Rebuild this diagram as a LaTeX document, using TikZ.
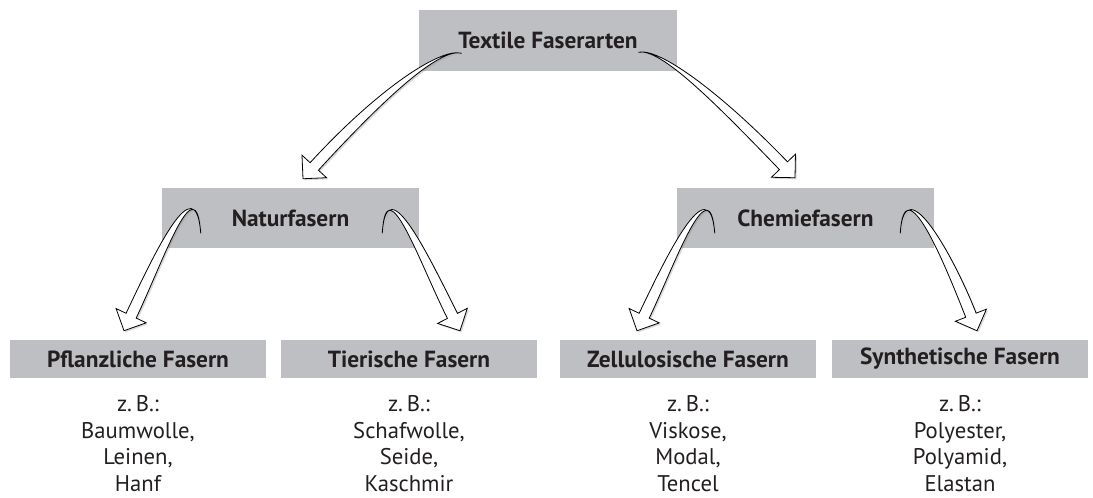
\documentclass[tikz,border=0pt]{standalone}
\usepackage{fontspec}
\setmainfont{PT Sans}
\usepackage{tikz}
\usetikzlibrary{positioning,calc,shadows}
\definecolor{boxgray}{RGB}{190,191,194}
\definecolor{inkgray}{RGB}{35,31,32}

\tikzset{
    fasebox/.style={fill=boxgray, inner sep=0pt, text=inkgray,
        font=\bfseries\fontsize{17.5}{21}\selectfont},
    topbox/.style={fasebox, minimum width=193.5pt, minimum height=45.75pt},
    midbox/.style={fasebox, minimum width=192.75pt, minimum height=45pt},
    lowbox/.style={fasebox, minimum width=191.5pt, minimum height=28.5pt},
    bsptext/.style={align=center, inner sep=0pt, text=inkgray,
        font=\fontsize{17}{19.8}\selectfont},
    swooshline/.style={draw=black, line width=0.6pt, fill=white, line join=miter,
        drop shadow={shadow xshift=1.2pt, shadow yshift=-1.2pt, opacity=0.3}}
}

% hollow tapered arrow: tail, control 1, control 2, tip
\newcommand\swoosh[4]{%
    \coordinate (sw-s) at #1;
    \coordinate (sw-c1) at #2;
    \coordinate (sw-c2) at #3;
    \coordinate (sw-t) at #4;
    \coordinate (sw-b) at ($(sw-t)!12.5pt!(sw-c2)$);
    \coordinate (sw-l) at ($(sw-b)!4.2pt!90:(sw-t)$);
    \coordinate (sw-r) at ($(sw-b)!4.2pt!-90:(sw-t)$);
    \coordinate (sw-hl) at ($(sw-b)!12.5pt!90:(sw-t)$);
    \coordinate (sw-hr) at ($(sw-b)!12.5pt!-90:(sw-t)$);
    \path[swooshline] (sw-s) .. controls (sw-c1) and ($(sw-c2)+(sw-l)-(sw-b)$) .. (sw-l)
        -- (sw-hl) -- (sw-t) -- (sw-hr) -- (sw-r)
        .. controls ($(sw-c2)+(sw-r)-(sw-b)$) and (sw-c1) .. (sw-s) -- cycle;
}

\begin{document}
\begin{tikzpicture}[x=0.75pt, y=-0.75pt]
    \useasboundingbox (0,0) rectangle (1093,497);

    \node[topbox] (faser) at (548,40.5) {Textile Faserarten};
    \node[midbox] (natur) at (290.5,218) {Naturfasern};
    \node[midbox] (chemie) at (805.5,218) {Chemiefasern};

    \node[lowbox] (pflanz) at (138,359) {Pflanzliche Fasern};
    \node[lowbox] (tier) at (409,359) {Tierische Fasern};
    \node[lowbox] (zell) at (688,359) {Zellulosische Fasern};
    \node[lowbox] (synth) at (960,359) {Synthetische Fasern};

    \node[bsptext, below=13pt of pflanz] (pflanzbsp) {z.\,B.:\\Baumwolle,\\Leinen,\\Hanf};
    \node[bsptext, below=13pt of tier] (tierbsp) {z.\,B.:\\Schafwolle,\\Seide,\\Kaschmir};
    \node[bsptext, below=13pt of zell] (zellbsp) {z.\,B.:\\Viskose,\\Modal,\\Tencel};
    \node[bsptext, below=13pt of synth] (synthbsp) {z.\,B.:\\Polyester,\\Polyamid,\\Elastan};

    % arrows
    \swoosh{($(faser.south west)+(43,-18)$)}{($(faser.south west)+(21,-24)$)}
        {($(natur.north)+(89.5,-93)$)}{($(natur.north)+(12.5,-9)$)}
    \swoosh{($(faser.south east)+(-39,-19)$)}{($(faser.south east)+(-17,-24)$)}
        {($(chemie.north)+(-85.5,-88)$)}{($(chemie.north)+(-10.5,-10)$)}
    \swoosh{($(natur.south west)+(39,-15)$)}{($(natur.south west)+(34,-83)$)}
        {($(pflanz.north)+(22,-85)$)}{($(pflanz.north)+(-14,-9)$)}
    \swoosh{($(natur.south east)+(-37,-15)$)}{($(natur.south east)+(-33,-83)$)}
        {($(tier.north)+(16,-78)$)}{($(tier.north)+(51,-9)$)}
    \swoosh{($(chemie.south west)+(38,-15)$)}{($(chemie.south west)+(33,-83)$)}
        {($(zell.north)+(-18,-78)$)}{($(zell.north)+(-51,-9)$)}
    \swoosh{($(chemie.south east)+(-34,-15)$)}{($(chemie.south east)+(-30,-83)$)}
        {($(synth.north)+(-10,-78)$)}{($(synth.north)+(17,-9)$)}
\end{tikzpicture}
\end{document}
